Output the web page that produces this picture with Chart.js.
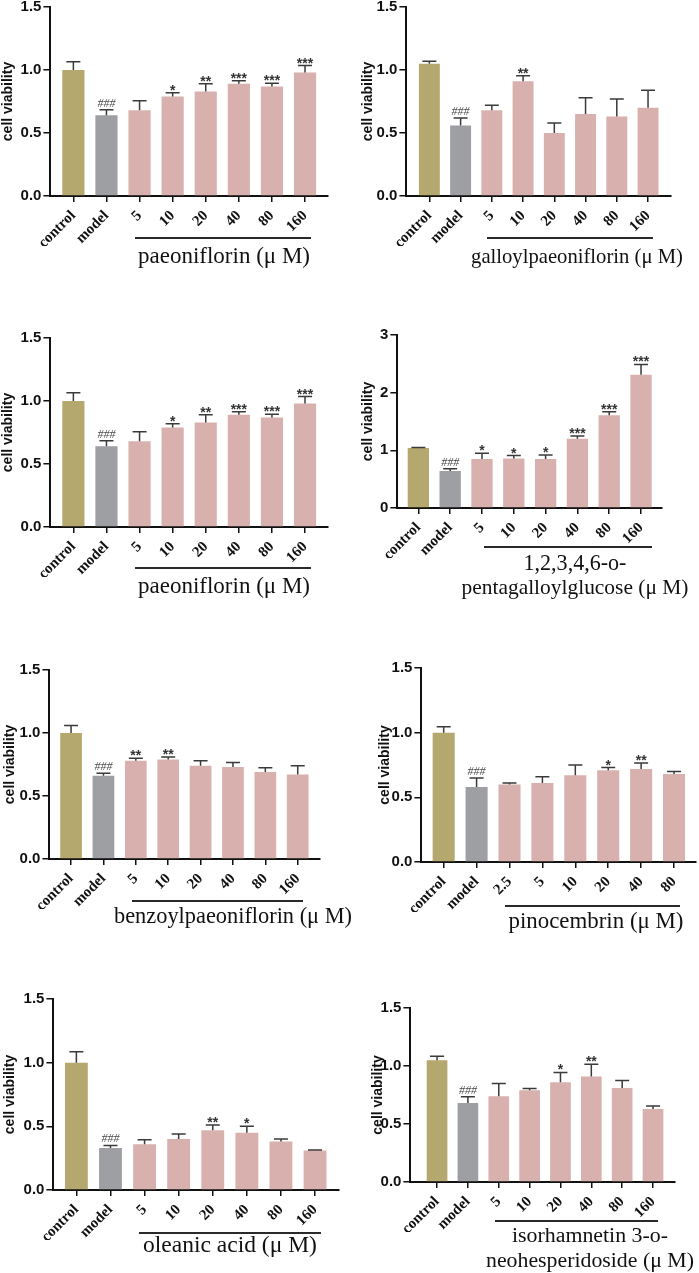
<!DOCTYPE html>
<html>
<head>
<meta charset="utf-8">
<script src="https://cdn.jsdelivr.net/npm/chart.js@4.4.1/dist/chart.umd.min.js"></script>
<style>
  html, body { margin: 0; padding: 0; background: #fff; }
  body { width: 699px; height: 1273px; position: relative; overflow: hidden; }
  canvas { position: absolute; }
  .cmpd {
    position: absolute;
    white-space: nowrap;
    text-align: center;
    color: #111;
    font-family: "Liberation Serif", "Times New Roman", serif;
  }
  .rule { position: absolute; height: 1.5px; background: #2a2a2a; }
</style>
</head>
<body>
<script>
// ---- data ----
const doseLabels = ["control", "model", "5", "10", "20", "40", "80", "160"];
const pinoLabels = ["control", "model", "2.5", "5", "10", "20", "40", "80"];

const paeoniflorinMean = [1.00, 0.64, 0.68, 0.79, 0.83, 0.89, 0.87, 0.98];
const paeoniflorinSem = [0.065, 0.045, 0.075, 0.03, 0.06, 0.025, 0.025, 0.055];
const paeoniflorinMarks = ["", "###", "", "*", "**", "***", "***", "***"];

const galloylMean = [1.05, 0.56, 0.68, 0.91, 0.50, 0.65, 0.63, 0.70];
const galloylSem = [0.02, 0.06, 0.04, 0.045, 0.08, 0.13, 0.14, 0.14];
const galloylMarks = ["", "###", "", "**", "", "", "", ""];

const pggMean = [1.04, 0.64, 0.85, 0.86, 0.85, 1.20, 1.61, 2.31];
const pggSem = [0.01, 0.04, 0.10, 0.05, 0.07, 0.05, 0.06, 0.18];
const pggMarks = ["", "###", "*", "*", "*", "***", "***", "***"];

const benzoylMean = [1.00, 0.66, 0.78, 0.79, 0.74, 0.73, 0.69, 0.67];
const benzoylSem = [0.06, 0.02, 0.02, 0.02, 0.04, 0.035, 0.035, 0.07];
const benzoylMarks = ["", "###", "**", "**", "", "", "", ""];

const pinocembrinMean = [1.00, 0.58, 0.60, 0.61, 0.67, 0.71, 0.72, 0.68];
const pinocembrinSem = [0.045, 0.07, 0.01, 0.05, 0.08, 0.02, 0.045, 0.02];
const pinocembrinMarks = ["", "###", "", "", "", "*", "**", ""];

const oleanicMean = [1.00, 0.33, 0.36, 0.40, 0.47, 0.45, 0.38, 0.31];
const oleanicSem = [0.085, 0.02, 0.035, 0.04, 0.04, 0.05, 0.02, 0.005];
const oleanicMarks = ["", "###", "", "", "**", "*", "", ""];

const isorhamnetinMean = [1.05, 0.68, 0.74, 0.79, 0.86, 0.91, 0.81, 0.63];
const isorhamnetinSem = [0.035, 0.055, 0.11, 0.015, 0.085, 0.105, 0.065, 0.025];
const isorhamnetinMarks = ["", "###", "", "", "*", "**", "", ""];

const barColors = ["#b5a86f", "#9d9fa3", "#d8b0ae", "#d8b0ae", "#d8b0ae", "#d8b0ae", "#d8b0ae", "#d8b0ae"];

// ---- panel layout (page pixels) ----
const panels = [
  { labels: doseLabels, mean: paeoniflorinMean, sem: paeoniflorinSem, marks: paeoniflorinMarks,
    yMax: 1.5, yStep: 0.5, axisX: 50, axisRight: 328, top: 7, bottom: 196, xMin: -0.694, xMax: 7.694, titleGap: 42,
    rule: [135, 311, 238], name: ["paeoniflorin (μ M)"], cx: 224, base: [263], width: [172] },
  { labels: doseLabels, mean: galloylMean, sem: galloylSem, marks: galloylMarks,
    yMax: 1.5, yStep: 0.5, axisX: 406, axisRight: 671, top: 7, bottom: 196, xMin: -0.735, xMax: 7.735, titleGap: 38,
    rule: [487, 653, 238], name: ["galloylpaeoniflorin (μ M)"], cx: 577, base: [263], width: [212] },
  { labels: doseLabels, mean: paeoniflorinMean, sem: paeoniflorinSem, marks: paeoniflorinMarks,
    yMax: 1.5, yStep: 0.5, axisX: 50, axisRight: 328, top: 338, bottom: 527, xMin: -0.694, xMax: 7.694, titleGap: 42,
    rule: [135, 311, 568], name: ["paeoniflorin (μ M)"], cx: 224, base: [593], width: [172] },
  { labels: doseLabels, mean: pggMean, sem: pggSem, marks: pggMarks,
    yMax: 3, yStep: 1, axisX: 397, axisRight: 662, top: 335, bottom: 508, xMin: -0.659, xMax: 7.659, titleGap: 29,
    rule: [484, 652, 547], name: ["1,2,3,4,6-o-", "pentagalloylglucose (μ M)"], cx: 575, base: [570, 595], width: [103, 227] },
  { labels: doseLabels, mean: benzoylMean, sem: benzoylSem, marks: benzoylMarks,
    yMax: 1.5, yStep: 0.5, axisX: 49, axisRight: 320, top: 670, bottom: 859, xMin: -0.669, xMax: 7.688, titleGap: 39,
    rule: [132, 303, 901], name: ["benzoylpaeoniflorin (μ M)"], cx: 233, base: [924], width: [238] },
  { labels: pinoLabels, mean: pinocembrinMean, sem: pinocembrinSem, marks: pinocembrinMarks,
    yMax: 1.5, yStep: 0.5, axisX: 421, axisRight: 696, top: 668, bottom: 862, xMin: -0.677, xMax: 7.667, titleGap: 36,
    rule: [505, 680, 906], name: ["pinocembrin (μ M)"], cx: 596, base: [929], width: [175] },
  { labels: doseLabels, mean: oleanicMean, sem: oleanicSem, marks: oleanicMarks,
    yMax: 1.5, yStep: 0.5, axisX: 53, axisRight: 339, top: 999, bottom: 1190, xMin: -0.674, xMax: 7.703, titleGap: 43,
    rule: [139, 321, 1233], name: ["oleanic acid (μ M)"], cx: 230, base: [1253], width: [174] },
  { labels: doseLabels, mean: isorhamnetinMean, sem: isorhamnetinSem, marks: isorhamnetinMarks,
    yMax: 1.5, yStep: 0.5, axisX: 410, axisRight: 675, top: 1008, bottom: 1182, xMin: -0.864, xMax: 7.712, titleGap: 32,
    rule: [495, 658, 1221], name: ["isorhamnetin 3-o-", "neohesperidoside (μ M)"], cx: 590, base: [1243, 1268], width: [156, 208] },
];

const PAD_TOP = 12;
const PAD_RIGHT = 10;
const X_BOX = 50;

// upper error whiskers plus the significance marks above them
const errorBarPlugin = {
  id: "errorBars",
  afterDatasetsDraw(chart) {
    const ctx = chart.ctx;
    const ds = chart.data.datasets[0];
    const yScale = chart.scales.y;
    const meta = chart.getDatasetMeta(0);
    ctx.save();
    meta.data.forEach((bar, i) => {
      const v = ds.data[i].y;
      const yBase = yScale.getPixelForValue(v);
      const yTop = yScale.getPixelForValue(v + ds.sem[i]);
      ctx.strokeStyle = "#3a3a3a";
      ctx.lineWidth = 1.5;
      ctx.beginPath();
      ctx.moveTo(bar.x, yBase);
      ctx.lineTo(bar.x, yTop);
      ctx.moveTo(bar.x - 7, yTop);
      ctx.lineTo(bar.x + 7, yTop);
      ctx.stroke();

      const mark = ds.marks[i];
      if (!mark) return;
      ctx.textAlign = "center";
      ctx.textBaseline = "alphabetic";
      if (mark[0] === "#") {
        ctx.fillStyle = "#4a4a4a";
        ctx.font = "italic 12px 'Liberation Serif'";
        ctx.fillText(mark, bar.x, yTop - 3);
      } else {
        ctx.fillStyle = "#333";
        ctx.font = "bold 14px 'Liberation Sans'";
        ctx.fillText(mark, bar.x, yTop + 2);
      }
    });
    ctx.restore();
  },
};

function drawPanel(p) {
  const left = p.axisX - p.titleGap - 8.4;
  const top = p.top - PAD_TOP;
  const w = Math.round(p.axisRight + PAD_RIGHT - left);
  const h = Math.round(p.bottom + X_BOX - top);
  const yWidth = p.axisX - left;

  const canvas = document.createElement("canvas");
  canvas.width = w;
  canvas.height = h;
  canvas.style.left = left + "px";
  canvas.style.top = top + "px";
  canvas.style.width = w + "px";
  canvas.style.height = h + "px";
  document.body.appendChild(canvas);

  new Chart(canvas.getContext("2d"), {
    type: "bar",
    data: {
      datasets: [{
        data: p.labels.map((_, i) => ({ x: i, y: p.mean[i] })),
        sem: p.sem,
        marks: p.marks,
        backgroundColor: barColors,
        borderWidth: 0,
        barPercentage: 0.67,
        categoryPercentage: 1,
      }],
    },
    options: {
      responsive: false,
      animation: false,
      devicePixelRatio: 1,
      layout: { padding: { top: PAD_TOP, right: PAD_RIGHT, left: 0, bottom: 0 } },
      plugins: { legend: { display: false }, tooltip: { enabled: false } },
      scales: {
        x: {
          type: "linear",
          min: p.xMin,
          max: p.xMax,
          offset: false,
          afterBuildTicks: (s) => { s.ticks = p.labels.map((_, i) => ({ value: i })); },
          afterFit: (s) => { s.height = X_BOX; },
          grid: { offset: false, drawOnChartArea: false, drawTicks: true, tickLength: 6, color: "#111", lineWidth: 1.5 },
          border: { display: true, color: "#111", width: 2 },
          ticks: {
            autoSkip: false,
            minRotation: 45,
            maxRotation: 45,
            padding: 5,
            color: "#111",
            font: { family: "Liberation Serif", weight: "bold", size: 15 },
            callback: (v) => p.labels[v],
          },
        },
        y: {
          min: 0,
          max: p.yMax,
          afterFit: (s) => { s.width = yWidth; },
          grid: { drawOnChartArea: false, drawTicks: true, tickLength: 7, color: "#111", lineWidth: 1.5 },
          border: { display: true, color: "#111", width: 2 },
          title: {
            display: true,
            text: "cell viability",
            color: "#111",
            padding: { top: 0, bottom: 0 },
            font: { family: "Liberation Sans", weight: "bold", size: 14 },
          },
          ticks: {
            stepSize: p.yStep,
            padding: 2,
            color: "#111",
            font: { family: "Liberation Sans", weight: "bold", size: 15 },
            callback: (v) => (p.yStep < 1 ? v.toFixed(1) : String(v)),
          },
        },
      },
    },
    plugins: [errorBarPlugin],
  });

  // line under the dose labels and the compound name
  const rule = document.createElement("div");
  rule.className = "rule";
  rule.style.left = p.rule[0] + "px";
  rule.style.width = (p.rule[1] - p.rule[0]) + "px";
  rule.style.top = (p.rule[2] - 0.75) + "px";
  document.body.appendChild(rule);

  const meas = document.createElement("canvas").getContext("2d");
  meas.font = "20px 'Liberation Serif'";
  p.name.forEach((line, k) => {
    const size = 20 * p.width[k] / meas.measureText(line).width;
    const div = document.createElement("div");
    div.className = "cmpd";
    div.textContent = line;
    div.style.fontSize = size.toFixed(2) + "px";
    div.style.lineHeight = size.toFixed(2) + "px";
    div.style.left = (p.cx - 160) + "px";
    div.style.width = "320px";
    div.style.top = (p.base[k] - 0.8375 * size) + "px";
    document.body.appendChild(div);
  });
}

panels.forEach(drawPanel);
</script>
</body>
</html>
